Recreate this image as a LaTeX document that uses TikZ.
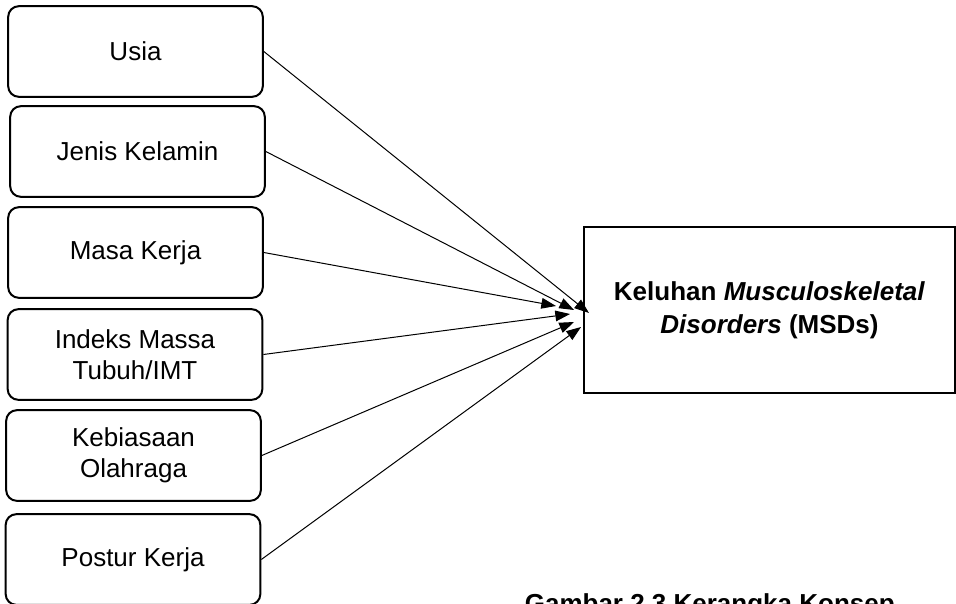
\documentclass[tikz,border=0pt]{standalone}
\usepackage{fontspec}
\setmainfont{Liberation Sans}
\usepackage{tikz}
\usetikzlibrary{arrows.meta, positioning}

\begin{document}
\begin{tikzpicture}[
        x=0.75pt, y=-0.75pt,
        >={Triangle[length=11pt, width=8pt]},
        base/.style={align=center, draw, line width=1.5pt, font=\fontsize{19.5}{23}\selectfont},
        factor/.style={base, rectangle, rounded corners=8pt, minimum width=191pt, minimum height=68pt},
        outcome/.style={base, rectangle, minimum width=278pt, minimum height=124.5pt, font=\bfseries\fontsize{19.5}{25}\selectfont},
        arrow/.style={->, line width=0.75pt, draw=black}
    ]

        \useasboundingbox (0, 0) rectangle (956, 603);

        \node[factor] (usia) at (135.5, 51.5) {Usia};
        \node[factor] (jenis) at (137.5, 151.5) {Jenis Kelamin};
        \node[factor] (masa) at (135.5, 252.5) {Masa Kerja};
        \node[factor] (imt) at (135, 354.5) {Indeks Massa\\Tubuh/IMT};
        \node[factor] (olahraga) at (133.5, 455.5) {Kebiasaan\\Olahraga};
        \node[factor] (postur) at (133, 559.5) {Postur Kerja};

        \node[outcome] (msd) at (769.5, 310) {Keluhan \textit{Musculoskeletal}\\\textit{Disorders} (MSDs)};

        \node[font=\bfseries\fontsize{19.5}{23}\selectfont, anchor=base east, inner sep=0pt] (caption) at (895, 612) {Gambar 2.3 Kerangka Konsep};

        \coordinate (tip1) at (589, 313);
        \coordinate (tip2) at (574, 310);
        \coordinate (tip3) at (556, 306);
        \coordinate (tip4) at (570, 314);
        \coordinate (tip5) at (574, 322);
        \coordinate (tip6) at (581, 327);

        \draw[arrow] (usia.east) -- (tip1);
        \draw[arrow] (jenis.east) -- (tip2);
        \draw[arrow] (masa.east) -- (tip3);
        \draw[arrow] (imt.east) -- (tip4);
        \draw[arrow] (olahraga.east) -- (tip5);
        \draw[arrow] (postur.east) -- (tip6);

    \end{tikzpicture}
\end{document}
